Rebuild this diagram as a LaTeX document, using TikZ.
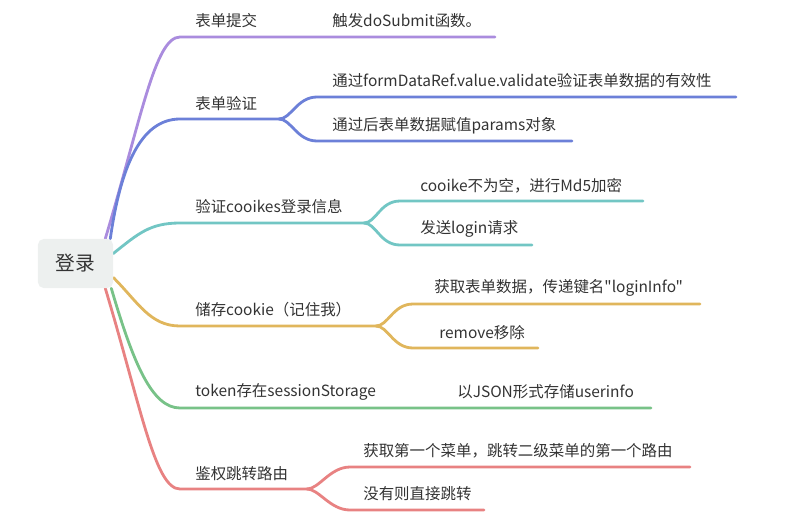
\documentclass[tikz,border=0pt]{standalone}
\usepackage{fontspec}
\newfontfamily\cjk{Noto Sans CJK SC}
\usepackage{xcolor}
\usepackage{tikz}
\usetikzlibrary{positioning,calc,backgrounds}

\definecolor{mmpurple}{RGB}{170,140,222}
\definecolor{mmblue}{RGB}{108,128,216}
\definecolor{mmteal}{RGB}{114,198,196}
\definecolor{mmgold}{RGB}{224,182,92}
\definecolor{mmgreen}{RGB}{120,194,136}
\definecolor{mmred}{RGB}{232,130,130}
\definecolor{mmroot}{RGB}{237,240,239}
\definecolor{mmtext}{RGB}{51,51,51}

\begin{document}
\begin{tikzpicture}[x=0.025cm, y=0.025cm,
  rootbox/.style={fill=mmroot, rounded corners=4pt, minimum width=1.875cm,
    minimum height=1.225cm, text=mmtext, font=\cjk\fontsize{14}{16}\selectfont, inner sep=0pt},
  label/.style={anchor=west, inner sep=0pt, text=mmtext, font=\cjk\fontsize{11}{13}\selectfont},
  branch/.style={line width=2pt, line cap=round}]

\useasboundingbox (0,0) rectangle (806,-520);

% Centre
\node[rootbox] (login) at (75.5,-263.5) {登录};

% First level labels
\node[label] (submit)   at (195,-21)  {表单提交};
\node[label] (check)    at (195,-104) {表单验证};
\node[label] (cookies)  at (195,-207) {验证cooikes登录信息};
\node[label] (remember) at (195,-310) {储存cookie（记住我）};
\node[label] (token)    at (195,-392) {token存在sessionStorage};
\node[label] (auth)     at (195,-474) {鉴权跳转路由};

% Second level labels
\node[label] (dosubmit) at (332,-21)  {触发doSubmit函数。};
\node[label] (validate) at (332,-81)  {通过formDataRef.value.validate验证表单数据的有效性};
\node[label] (params)   at (332,-126) {通过后表单数据赋值params对象};
\node[label] (md5)      at (420,-186) {cooike不为空，进行Md5加密};
\node[label] (request)  at (420,-229) {发送login请求};
\node[label] (getform)  at (434,-288) {获取表单数据，传递键名"loginInfo"};
\node[label] (remove)   at (439,-333) {remove移除};
\node[label] (json)     at (457,-392) {以JSON形式存储userinfo};
\node[label] (firstmenu) at (363,-451) {获取第一个菜单，跳转二级菜单的第一个路由};
\node[label] (direct)   at (363,-494) {没有则直接跳转};

% Line ends
\coordinate (submit-a) at (180,-37);   \coordinate (dosubmit-b) at (495,-37);
\coordinate (check-a) at (180,-119);   \coordinate (check-f) at (279,-119);
\coordinate (validate-a) at (317,-97); \coordinate (validate-b) at (736,-97);
\coordinate (params-a) at (317,-141);  \coordinate (params-b) at (572,-141);
\coordinate (cookies-a) at (180,-223); \coordinate (cookies-f) at (364,-223);
\coordinate (md5-a) at (400,-201);     \coordinate (md5-b) at (643,-201);
\coordinate (request-a) at (400,-245); \coordinate (request-b) at (532,-245);
\coordinate (remember-a) at (180,-326); \coordinate (remember-f) at (376,-326);
\coordinate (getform-a) at (413,-304); \coordinate (getform-b) at (700,-304);
\coordinate (remove-a) at (413,-348);  \coordinate (remove-b) at (538,-348);
\coordinate (token-a) at (180,-408);   \coordinate (json-b) at (651,-408);
\coordinate (auth-a) at (180,-489);    \coordinate (auth-f) at (307,-489);
\coordinate (firstmenu-a) at (350,-467); \coordinate (firstmenu-b) at (690,-467);
\coordinate (direct-a) at (350,-510);  \coordinate (direct-b) at (484,-510);

\begin{scope}[on background layer]
% Purple branch
\draw[branch, mmpurple] ($(login.north east)+(-8,0)$) .. controls +(36,120) and +(-25,0) .. (submit-a) -- (dosubmit-b);

% Blue branch
\draw[branch, mmblue] ($(login.north east)+(-3,0)$) .. controls +(10,70) and +(-40,0) .. (check-a) -- (check-f);
\draw[branch, mmblue] (check-f) .. controls +(12,0) and +(-20,0) .. (validate-a) -- (validate-b);
\draw[branch, mmblue] (check-f) .. controls +(12,0) and +(-20,0) .. (params-a) -- (params-b);

% Teal branch
\draw[branch, mmteal] ($(login.east)+(0,10)$) .. controls +(25,20) and +(-30,0) .. (cookies-a) -- (cookies-f);
\draw[branch, mmteal] (cookies-f) .. controls +(12,0) and +(-20,0) .. (md5-a) -- (md5-b);
\draw[branch, mmteal] (cookies-f) .. controls +(12,0) and +(-20,0) .. (request-a) -- (request-b);

% Gold branch
\draw[branch, mmgold] ($(login.east)+(0,-14)$) .. controls +(25,-25) and +(-30,0) .. (remember-a) -- (remember-f);
\draw[branch, mmgold] (remember-f) .. controls +(12,0) and +(-20,0) .. (getform-a) -- (getform-b);
\draw[branch, mmgold] (remember-f) .. controls +(12,0) and +(-20,0) .. (remove-a) -- (remove-b);

% Green branch
\draw[branch, mmgreen] ($(login.south east)+(-2,0)$) .. controls +(22,-75) and +(-28,0) .. (token-a) -- (json-b);

% Red branch
\draw[branch, mmred] ($(login.south east)+(-8,0)$) .. controls +(36,-120) and +(-25,0) .. (auth-a) -- (auth-f);
\draw[branch, mmred] (auth-f) .. controls +(12,0) and +(-20,0) .. (firstmenu-a) -- (firstmenu-b);
\draw[branch, mmred] (auth-f) .. controls +(12,0) and +(-20,0) .. (direct-a) -- (direct-b);
\end{scope}

\end{tikzpicture}
\end{document}
